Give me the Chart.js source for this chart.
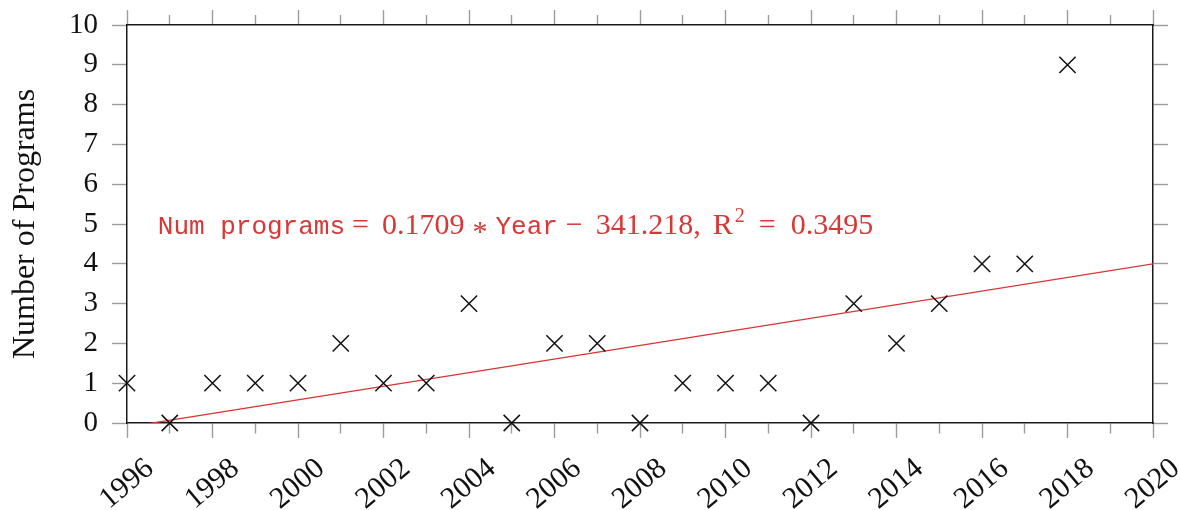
<!DOCTYPE html>
<html>
<head>
<meta charset="utf-8">
<title>Number of Programs per Year</title>
<script src="https://cdn.jsdelivr.net/npm/chart.js@4/dist/chart.umd.min.js"></script>
<style>
  html, body { margin: 0; padding: 0; background: #ffffff; }
  canvas { display: block; }
</style>
</head>
<body>
<canvas id="chart" width="1180" height="510"></canvas>
<script>
// Programs counted per year
const years = [1996, 1997, 1998, 1999, 2000, 2001, 2002, 2003, 2004, 2005, 2006, 2007,
               2008, 2009, 2010, 2011, 2012, 2013, 2014, 2015, 2016, 2017, 2018];
const programCounts = [1, 0, 1, 1, 1, 2, 1, 1, 3, 0, 2, 2,
                       0, 1, 1, 1, 0, 3, 2, 3, 4, 4, 9];

// Linear fit: Num programs = slope * Year + intercept
const fitSlope = 0.1709;
const fitIntercept = -341.218;
const fitR2 = 0.3495;
const fitYears = [1996, 2020];

// Axis ranges
const yearRange = [1996, 2020];
const countRange = [0, 10];

// Where the fit equation is written (data coordinates)
const equationAt = { x: 1996.72, y: 5 };

const SERIF = '"Liberation Serif", "Times New Roman", serif';
const MONO = '"Liberation Mono", "Courier New", monospace';
const RED = '#d93636';
const TICK_GREY = '#9c9c9c';
const BOX = '#1a1a1a';

const scatterPoints = years.map((x, i) => ({ x: x, y: programCounts[i] }));
const fitPoints = fitYears.map(x => ({ x: x, y: fitSlope * x + fitIntercept }));

// Odd years get short (minor) tick marks via a dash pattern
const minorDashBottom = ctx => (ctx.tick && ctx.tick.value % 2 !== 0) ? [10, 100] : [];
const minorDashTop = ctx => (ctx.tick && ctx.tick.value % 2 !== 0) ? [0, 5, 10, 100] : [];

// Fix an axis' thickness and drop the extra margin reserved for its labels
const fixSize = (prop, size) => s => {
  s[prop] = size;
  s.paddingLeft = 0; s.paddingRight = 0; s.paddingTop = 0; s.paddingBottom = 0;
};

const equationPlugin = {
  id: 'equation',
  afterDatasetsDraw(chart) {
    const { ctx, scales } = chart;
    const x0 = scales.x.getPixelForValue(equationAt.x);
    const yMid = scales.y.getPixelForValue(equationAt.y);
    const base = yMid + 10;
    const serif = '30px ' + SERIF;
    const mono = '26px ' + MONO;
    const sup = '20px ' + SERIF;
    const parts = [
      { t: 'Num programs', f: mono, gap: 0 },
      { t: '=', f: serif, gap: 7 },
      { t: fitSlope.toFixed(4), f: serif, gap: 13 },
      { t: '*', f: serif, gap: 8, dy: 7 },
      { t: 'Year', f: mono, gap: 8 },
      { t: '\u2212', f: serif, gap: 8 },
      { t: Math.abs(fitIntercept).toFixed(3) + ',', f: serif, gap: 13 },
      { t: 'R', f: serif, gap: 12 },
      { t: '2', f: sup, gap: 2, dy: -12 },
      { t: '=', f: serif, gap: 14 },
      { t: fitR2.toFixed(4), f: serif, gap: 15 }
    ];
    ctx.save();
    ctx.fillStyle = RED;
    ctx.textBaseline = 'alphabetic';
    ctx.textAlign = 'left';
    let x = x0;
    parts.forEach(p => {
      ctx.font = p.f;
      x += p.gap;
      ctx.fillText(p.t, x, base + (p.dy || 0));
      x += ctx.measureText(p.t).width;
    });
    ctx.restore();
  }
};

const tickGrid = (dash) => ({
  drawOnChartArea: false,
  drawTicks: true,
  tickLength: 15,
  tickColor: TICK_GREY,
  tickWidth: 1.4,
  tickBorderDash: dash || []
});

new Chart(document.getElementById('chart'), {
  data: {
    datasets: [
      {
        type: 'line',
        label: 'Linear fit',
        data: fitPoints,
        borderColor: RED,
        borderWidth: 1.3,
        pointRadius: 0,
        fill: false,
        tension: 0,
        clip: 0,
        order: 2
      },
      {
        type: 'scatter',
        label: 'Programs',
        data: scatterPoints,
        pointStyle: 'crossRot',
        pointRadius: 11.5,
        pointHoverRadius: 11.5,
        borderColor: '#111111',
        backgroundColor: '#111111',
        pointBorderWidth: 1.5,
        borderWidth: 1.5,
        clip: false,
        order: 1
      }
    ]
  },
  options: {
    responsive: false,
    animation: false,
    devicePixelRatio: 1,
    layout: { padding: 0 },
    plugins: {
      legend: { display: false },
      tooltip: { enabled: false }
    },
    scales: {
      x: {
        type: 'linear',
        position: 'bottom',
        min: yearRange[0],
        max: yearRange[1],
        afterFit: fixSize('height', 87),
        border: { display: true, color: BOX, width: 1.5 },
        grid: tickGrid(minorDashBottom),
        ticks: {
          stepSize: 1,
          autoSkip: false,
          minRotation: 40,
          maxRotation: 40,
          labelOffset: 23,
          padding: 13,
          color: '#111111',
          font: { family: SERIF, size: 30 },
          callback: v => (v % 2 === 0 ? String(v) : '')
        }
      },
      xTop: {
        type: 'linear',
        position: 'top',
        min: yearRange[0],
        max: yearRange[1],
        afterFit: fixSize('height', 25),
        border: { display: true, color: BOX, width: 1.5 },
        grid: tickGrid(minorDashTop),
        ticks: { stepSize: 1, autoSkip: false, display: false }
      },
      y: {
        type: 'linear',
        position: 'left',
        min: countRange[0],
        max: countRange[1],
        afterFit: fixSize('width', 127),
        border: { display: true, color: BOX, width: 1.5 },
        grid: tickGrid(),
        ticks: {
          stepSize: 1,
          padding: 14,
          color: '#111111',
          font: { family: SERIF, size: 29 }
        },
        title: {
          display: true,
          text: 'Number of Programs',
          color: '#111111',
          font: { family: SERIF, size: 32 },
          padding: { top: 6, bottom: 0 }
        }
      },
      yRight: {
        type: 'linear',
        position: 'right',
        min: countRange[0],
        max: countRange[1],
        afterFit: fixSize('width', 27),
        border: { display: true, color: BOX, width: 1.5 },
        grid: tickGrid(),
        ticks: { stepSize: 1, display: false }
      }
    }
  },
  plugins: [equationPlugin]
});
</script>
</body>
</html>
